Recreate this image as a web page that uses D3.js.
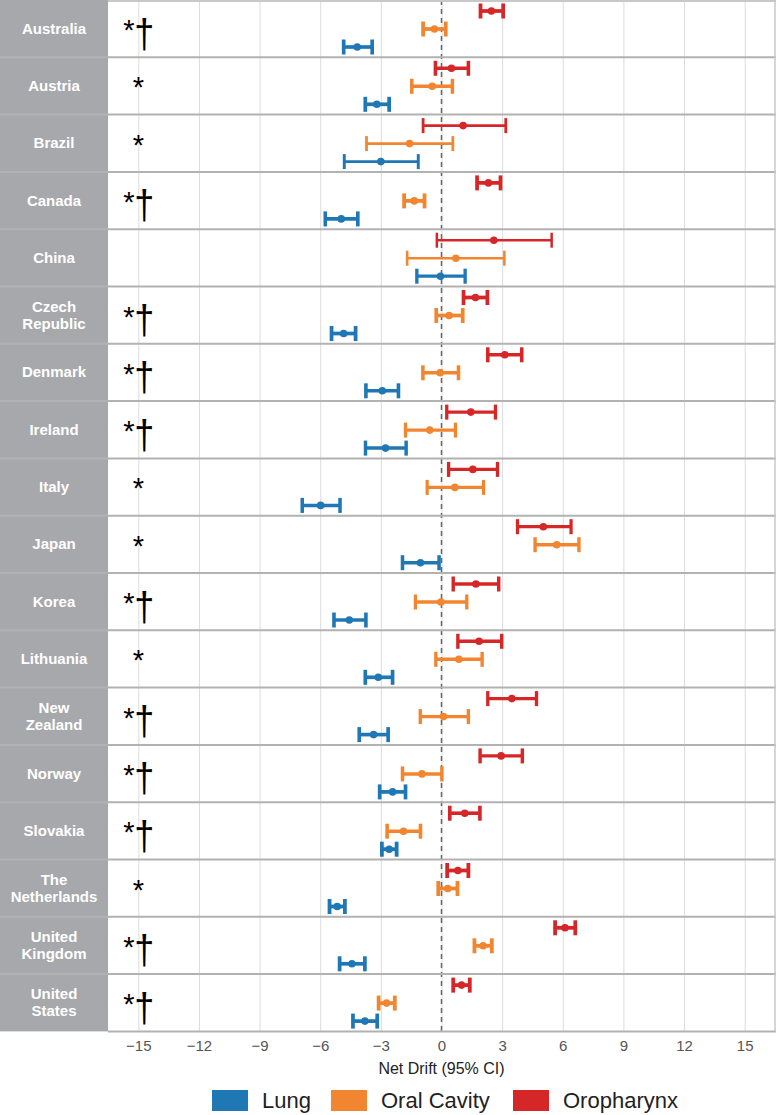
<html>
<head>
<script src="https://d3js.org/d3.v7.min.js"></script>
<style>
body { margin: 0; background: #fff; }
text { font-family: "Liberation Sans", Arial, sans-serif; }
.grid line { stroke: #dcdcdc; }
.grid .domain { stroke: none; }
</style>
</head>
<body>
<svg id="all" width="776" height="1115"></svg>
<script>
const countries = ["Australia","Austria","Brazil","Canada","China","Czech Republic","Denmark","Ireland","Italy","Japan","Korea","Lithuania","New Zealand","Norway","Slovakia","The Netherlands","United Kingdom","United States"];
const marks = ["*†","*","*","*†","","*†","*†","*†","*","*","*†","*","*†","*†","*†","*","*†","*†"];
const sites = ["Oropharynx","Oral Cavity","Lung"];
const legendOrder = ["Lung","Oral Cavity","Oropharynx"];
const siteColors = ["#d62728","#f28630","#1f77b4"];

// net drift estimate, lower, upper for each country
const oroEst = [2.47,0.49,1.07,2.32,2.59,1.68,3.13,1.45,1.55,5.04,1.70,1.86,3.48,2.95,1.15,0.81,6.11,0.99];
const oroLo  = [1.93,-0.30,-0.91,1.76,-0.23,1.09,2.29,0.26,0.35,3.76,0.58,0.81,2.29,1.91,0.41,0.28,5.62,0.58];
const oroHi  = [3.05,1.33,3.18,2.92,5.45,2.27,3.97,2.67,2.77,6.41,2.83,2.98,4.70,4.00,1.90,1.33,6.62,1.40];
const oralEst = [-0.35,-0.46,-1.58,-1.35,0.71,0.38,-0.07,-0.58,0.66,5.70,-0.03,0.86,0.10,-0.97,-1.88,0.31,2.06,-2.72];
const oralLo  = [-0.91,-1.47,-3.71,-1.85,-1.70,-0.26,-0.92,-1.78,-0.71,4.63,-1.29,-0.28,-1.05,-1.93,-2.69,-0.16,1.63,-3.11];
const oralHi  = [0.21,0.54,0.56,-0.84,3.11,1.05,0.84,0.69,2.08,6.80,1.25,2.01,1.33,0.02,-1.04,0.79,2.49,-2.31];
const lungEst = [-4.17,-3.20,-3.00,-4.96,-0.05,-4.84,-2.93,-2.77,-5.98,-1.04,-4.56,-3.13,-3.36,-2.42,-2.59,-5.16,-4.43,-3.79];
const lungLo  = [-4.84,-3.77,-4.81,-5.75,-1.22,-5.44,-3.74,-3.76,-6.89,-1.93,-5.32,-3.77,-4.07,-3.06,-2.95,-5.54,-5.04,-4.38];
const lungHi  = [-3.43,-2.59,-1.15,-4.14,1.17,-4.25,-2.13,-1.75,-5.02,-0.12,-3.74,-2.42,-2.64,-1.78,-2.22,-4.78,-3.79,-3.18];
const xTicks = [-15,-12,-9,-6,-3,0,3,6,9,12,15];

const svg = d3.select("svg#all");
const margin = {top: 0, right: 1, left: 108};
const rowH = 57.3;
const panelBottom = margin.top + rowH * countries.length;

const series = {
  "Oropharynx": [oroEst, oroLo, oroHi],
  "Oral Cavity": [oralEst, oralLo, oralHi],
  "Lung": [lungEst, lungLo, lungHi]
};
let rows = [];
countries.forEach((c, i) => {
  sites.forEach(s => {
    const [e, lo, hi] = series[s];
    rows.push({country: c, site: s, est: e[i], lo: lo[i], hi: hi[i]});
  });
});

const x = d3.scaleLinear().domain([-16.5, 16.5]).range([margin.left, 776 - margin.right]);
const yRow = d3.scaleBand().domain(countries).range([margin.top, panelBottom]);
const ySite = d3.scalePoint().domain(sites).range([11, 47]);
const col = d3.scaleOrdinal().domain(sites).range(siteColors);
const widthScale = d3.scaleLinear().domain([1, 5]).range([3.8, 2.5]).clamp(true);

// gridlines
svg.append("g").attr("class", "grid")
  .attr("transform", `translate(0,${panelBottom})`)
  .call(d3.axisBottom(x).tickValues(xTicks).tickSize(-(panelBottom - margin.top)).tickFormat(""));

// zero line
svg.append("line")
  .attr("x1", x(0)).attr("x2", x(0))
  .attr("y1", margin.top).attr("y2", panelBottom)
  .attr("stroke", "#666").attr("stroke-width", 1.5).attr("stroke-dasharray", "5,4");

// strips
svg.append("rect").attr("x", 0).attr("y", margin.top)
  .attr("width", margin.left).attr("height", panelBottom - margin.top)
  .attr("fill", "#a7a8ac");

// row separators
svg.append("g").selectAll("line")
  .data(countries.slice(1))
  .join("line")
  .attr("x1", 0).attr("x2", 776)
  .attr("y1", d => yRow(d)).attr("y2", d => yRow(d))
  .attr("stroke", "#b2b2b2").attr("stroke-width", 2);
svg.append("line").attr("x1", margin.left).attr("x2", 776)
  .attr("y1", margin.top + 1).attr("y2", margin.top + 1)
  .attr("stroke", "#c8c8c8").attr("stroke-width", 2);
svg.append("line").attr("x1", margin.left).attr("x2", 776)
  .attr("y1", panelBottom).attr("y2", panelBottom)
  .attr("stroke", "#b2b2b2").attr("stroke-width", 2);
svg.append("line").attr("x1", 775).attr("x2", 775)
  .attr("y1", margin.top).attr("y2", panelBottom)
  .attr("stroke", "#c8c8c8").attr("stroke-width", 1.5);

// strip labels
const twoLine = {"Czech Republic": ["Czech","Republic"], "New Zealand": ["New","Zealand"],
  "The Netherlands": ["The","Netherlands"], "United Kingdom": ["United","Kingdom"], "United States": ["United","States"]};
svg.append("g").selectAll("text")
  .data(countries)
  .join("text")
  .attr("text-anchor", "middle")
  .attr("fill", "#fff")
  .attr("font-weight", "bold")
  .attr("font-size", 15)
  .each(function(d) {
    const lines = twoLine[d] || [d];
    const cy = yRow(d) + rowH / 2;
    const start = cy - (lines.length - 1) * 8.5 + 5;
    d3.select(this).selectAll("tspan").data(lines).join("tspan")
      .attr("x", margin.left / 2)
      .attr("y", (l, k) => start + k * 17)
      .text(l => l);
  });

// significance marks
const markG = svg.append("g").selectAll("g")
  .data(countries)
  .join("g")
  .attr("transform", d => `translate(0,${yRow(d)})`);
markG.append("text")
  .attr("x", (d, i) => marks[i].length > 1 ? x(-15) - 9.5 : x(-15))
  .attr("y", 40)
  .attr("text-anchor", "middle")
  .attr("font-size", 29)
  .attr("fill", "#000")
  .text((d, i) => marks[i].charAt(0));
markG.append("text")
  .attr("transform", `translate(${x(-15) + 6},47.5) scale(1.2,1.38)`)
  .attr("text-anchor", "middle")
  .attr("font-size", 30)
  .attr("fill", "#000")
  .text((d, i) => marks[i].slice(1));

// error bars
const bars = svg.append("g").selectAll("g")
  .data(rows)
  .join("g")
  .attr("transform", d => `translate(0,${yRow(d.country) + ySite(d.site)})`)
  .attr("stroke", d => col(d.site))
  .attr("fill", d => col(d.site));

bars.append("line")
  .attr("x1", d => x(d.lo)).attr("x2", d => x(d.hi))
  .attr("y1", 0).attr("y2", 0)
  .attr("stroke-width", d => widthScale(d.hi - d.lo));
bars.selectAll("line.cap")
  .data(d => [d.lo, d.hi].map(v => ({v: v, w: widthScale(d.hi - d.lo)})))
  .join("line")
  .attr("class", "cap")
  .attr("x1", c => x(c.v)).attr("x2", c => x(c.v))
  .attr("y1", -7.5).attr("y2", 7.5)
  .attr("stroke-width", c => c.w);
bars.append("circle")
  .attr("cx", d => x(d.est)).attr("cy", 0)
  .attr("r", 3.8).attr("stroke", "none");

// x axis
const axis = svg.append("g")
  .attr("transform", `translate(0,${panelBottom})`)
  .call(d3.axisBottom(x).tickValues(xTicks).tickSize(0).tickPadding(9).tickFormat(d => d < 0 ? "\u2212" + Math.abs(d) : d));
axis.select(".domain").remove();
axis.selectAll("text").attr("font-size", 15).attr("fill", "#555")
  .style("font-family", "'Liberation Sans', Arial, sans-serif");

svg.append("text")
  .attr("x", x(0)).attr("y", panelBottom + 43)
  .attr("text-anchor", "middle").attr("font-size", 16).attr("fill", "#222")
  .text("Net Drift (95% CI)");

// legend
const legendX = [212, 331, 513];
const legend = svg.append("g").selectAll("g")
  .data(legendOrder)
  .join("g")
  .attr("transform", (d, i) => `translate(${legendX[i]},1090)`);
legend.append("rect").attr("width", 36).attr("height", 21).attr("fill", d => col(d));
legend.append("text").attr("x", 50).attr("y", 18)
  .attr("font-size", 22).attr("fill", "#222").text(d => d);
</script>
</body>
</html>
